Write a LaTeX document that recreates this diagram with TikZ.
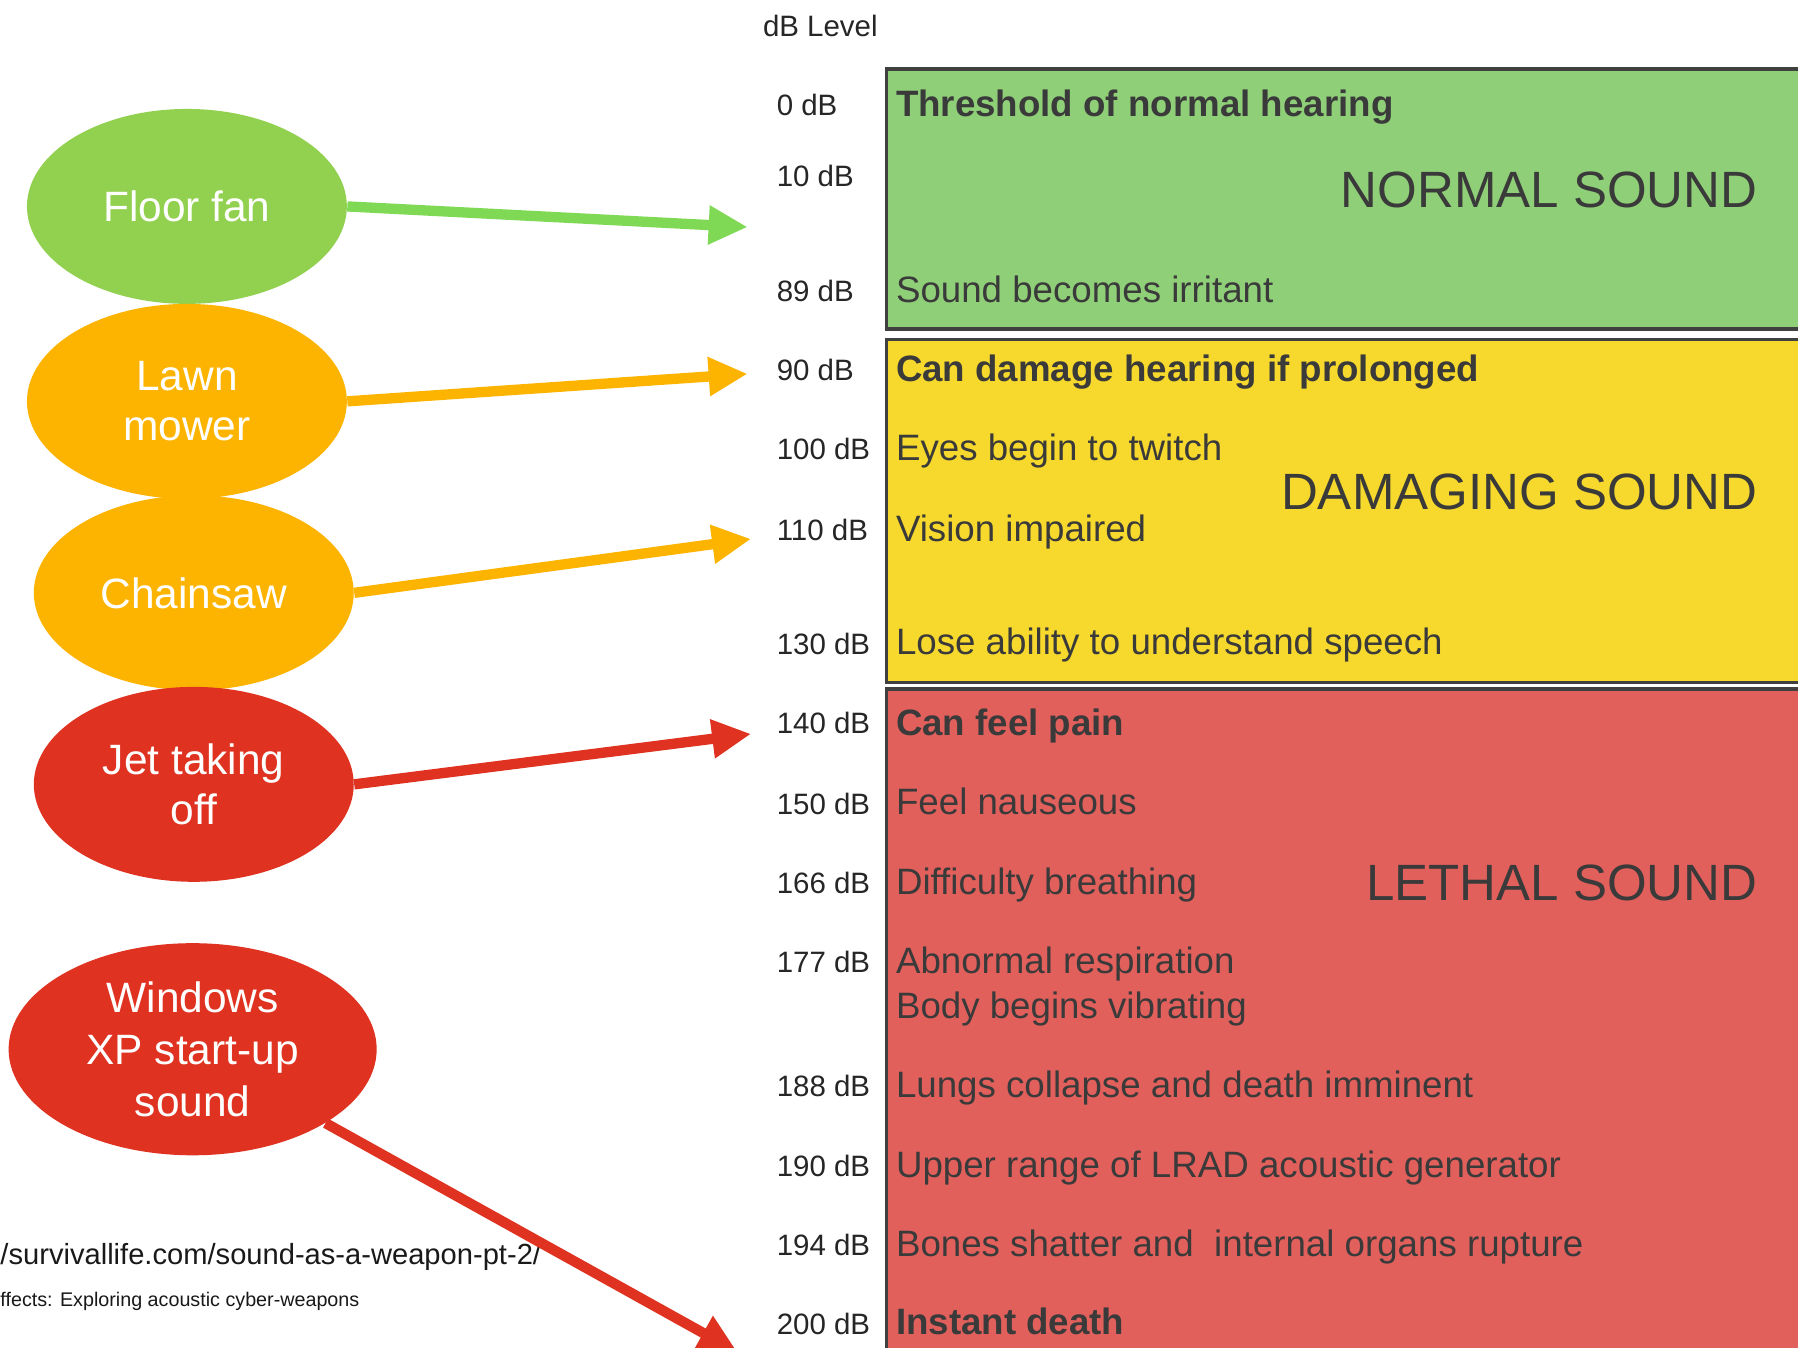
\documentclass[tikz,border=0pt]{standalone}
\usepackage{fontspec}
\setmainfont{Liberation Sans}
\usetikzlibrary{shapes.geometric,arrows.meta}
\definecolor{fangreen}{HTML}{92D050}
\definecolor{arrgreen}{HTML}{7FD955}
\definecolor{mowor}{HTML}{FDB400}
\definecolor{jetred}{HTML}{DF3220}
\definecolor{boxgreen}{HTML}{8FCF78}
\definecolor{boxyellow}{HTML}{F6D92C}
\definecolor{boxred}{HTML}{E2605C}
\definecolor{ink}{HTML}{3A3A3A}
\begin{document}
\begin{tikzpicture}[x=0.5pt,y=-0.5pt,
 src/.style={ellipse, minimum width=139.5pt, minimum height=85pt, inner sep=0pt, text=white, align=center, font=\fontsize{18.5}{22}\selectfont},
 ptr/.style={line width=4.5pt, -{Triangle[length=17pt,width=16pt]}},
 lvl/.style={anchor=base west, inner sep=0pt, text=black!85, font=\fontsize{12.85}{15}\selectfont},
 eff/.style={anchor=base west, inner sep=0pt, text=ink, font=\fontsize{16}{19}\selectfont},
 efb/.style={anchor=base west, inner sep=0pt, text=ink, font=\fontsize{16}{19}\selectfont\bfseries},
 zone/.style={anchor=base east, inner sep=0pt, text=ink, font=\fontsize{22.25}{26}\selectfont},
 band/.style={draw=black!75, line width=1.5pt},
 note/.style={anchor=base west, inner sep=0pt, text=black!90}
]
\clip (0,0) rectangle (1568,1175);
\fill[white] (0,0) rectangle (1568,1175);

% bands
\draw[band, fill=boxgreen] (773,60) rectangle (1580,287);
\draw[band, fill=boxyellow] (773,296) rectangle (1580,595);
\draw[band, fill=boxred] (773,601) rectangle (1580,1190);

% header and levels
\node[lvl] (hdr) at (665,32) {dB Level};
\node[lvl] (l0) at (677,101) {0 dB};
\node[lvl] (l10) at (677,163) {10 dB};
\node[lvl] (l89) at (677,263) {89 dB};
\node[lvl] (l90) at (677,332) {90 dB};
\node[lvl] (l100) at (677,401) {100 dB};
\node[lvl] (l110) at (677,471) {110 dB};
\node[lvl] (l130) at (677,571) {130 dB};
\node[lvl] (l140) at (677,640) {140 dB};
\node[lvl] (l150) at (677,710) {150 dB};
\node[lvl] (l166) at (677,779) {166 dB};
\node[lvl] (l177) at (677,848) {177 dB};
\node[lvl] (l188) at (677,956) {188 dB};
\node[lvl] (l190) at (677,1026) {190 dB};
\node[lvl] (l194) at (677,1095) {194 dB};
\node[lvl] (l200) at (677,1164) {200 dB};

% effects
\node[efb] (e0) at (781,102) {Threshold of normal hearing};
\node[eff] (e89) at (781,264) {Sound becomes irritant};
\node[efb] (e90) at (781,333) {Can damage hearing if prolonged};
\node[eff] (e100) at (781,402) {Eyes begin to twitch};
\node[eff] (e110) at (781,472) {Vision impaired};
\node[eff] (e130) at (781,571) {Lose ability to understand speech};
\node[efb] (e140) at (781,641) {Can feel pain};
\node[eff] (e150) at (781,710) {Feel nauseous};
\node[eff] (e166) at (781,780) {Difficulty breathing};
\node[eff] (e177) at (781,849) {Abnormal respiration};
\node[eff] (e177b) at (781,888) {Body begins vibrating};
\node[eff] (e188) at (781,957) {Lungs collapse and death imminent};
\node[eff] (e190) at (781,1027) {Upper range of LRAD acoustic generator};
\node[eff] (e194) at (781,1096) {Bones shatter and \ internal organs rupture};
\node[efb] (e200) at (781,1164) {Instant death};

% zone titles
\node[zone] (zn) at (1533,181) {NORMAL SOUND};
\node[zone] (zd) at (1533,444) {DAMAGING SOUND};
\node[zone] (zl) at (1533,785) {LETHAL SOUND};

% sources
\node[src, fill=fangreen] (fan) at (163,180) {Floor fan};
\node[src, fill=mowor] (mow) at (163,350) {Lawn\\mower};
\node[src, fill=mowor] (saw) at (169,517) {Chainsaw};
\node[src, fill=jetred] (jet) at (169,684) {Jet taking\\off};
\node[src, fill=jetred, minimum width=160.5pt, minimum height=92.5pt, font=\fontsize{18.5}{22.5}\selectfont] (win) at (168,915) {Windows\\XP start-up\\sound};

% arrow targets
\coordinate (tfan) at (652,198);
\coordinate (tmow) at (652,326);
\coordinate (tsaw) at (655,470);
\coordinate (tjet) at (655,640);
\coordinate (twin) at (643,1179);

\draw[ptr, arrgreen] (fan.east) -- (tfan);
\draw[ptr, mowor] (mow.east) -- (tmow);
\draw[ptr, mowor] (saw.east) -- (tsaw);
\draw[ptr, jetred] (jet.east) -- (tjet);

% footnotes
\node[note, font=\fontsize{12.7}{15}\selectfont] (n1) at (0,1103) {/survivallife.com/sound-as-a-weapon-pt-2/};
\node[note, font=\fontsize{8.6}{10}\selectfont] (n2) at (0,1139) {ffects: Exploring acoustic cyber-weapons};

\draw[ptr, jetred] (win) -- (twin);
\end{tikzpicture}
\end{document}
